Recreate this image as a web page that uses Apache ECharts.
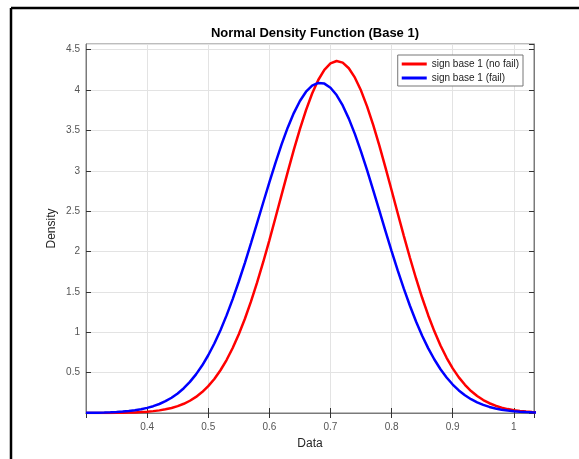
<!DOCTYPE html>
<html>
<head>
<meta charset="utf-8">
<script src="https://cdn.jsdelivr.net/npm/echarts@6/dist/echarts.min.js"></script>
<style>
html,body{margin:0;padding:0;background:#fff;}
#chart{width:579px;height:459px;}
</style>
</head>
<body>
<div id="chart"></div>
<script>
var xValues = [0.30,0.31,0.32,0.33,0.34,0.35,0.36,0.37,0.38,0.39,0.40,0.41,0.42,0.43,0.44,0.45,0.46,0.47,0.48,0.49,0.50,0.51,0.52,0.53,0.54,0.55,0.56,0.57,0.58,0.59,0.60,0.61,0.62,0.63,0.64,0.65,0.66,0.67,0.68,0.69,0.70,0.71,0.72,0.73,0.74,0.75,0.76,0.77,0.78,0.79,0.80,0.81,0.82,0.83,0.84,0.85,0.86,0.87,0.88,0.89,0.90,0.91,0.92,0.93,0.94,0.95,0.96,0.97,0.98,0.99,1.00,1.01,1.02,1.03,1.04];
var noFail = [0.0003,0.0004,0.0006,0.0010,0.0015,0.0023,0.0035,0.0052,0.0077,0.0113,0.0163,0.0232,0.0326,0.0454,0.0624,0.0849,0.1142,0.1517,0.1994,0.2589,0.3324,0.4218,0.5293,0.6562,0.8044,0.9745,1.1668,1.3817,1.6167,1.8704,2.1386,2.4176,2.7015,2.9835,3.2578,3.5159,3.7513,3.9563,4.1241,4.2501,4.3295,4.3597,4.3396,4.2700,4.1531,3.9930,3.7949,3.5652,3.3110,3.0394,2.7581,2.4739,2.1940,1.9228,1.6660,1.4270,1.2082,1.0111,0.8362,0.6841,0.5528,0.4417,0.3490,0.2724,0.2104,0.1604,0.1210,0.0902,0.0665,0.0484,0.0349,0.0248,0.0175,0.0122,0.0084];
var fail = [0.0020,0.0029,0.0043,0.0062,0.0089,0.0127,0.0179,0.0249,0.0343,0.0469,0.0632,0.0845,0.1116,0.1461,0.1891,0.2423,0.3072,0.3854,0.4786,0.5880,0.7153,0.8610,1.0257,1.2090,1.4106,1.6286,1.8605,2.1039,2.3542,2.6070,2.8573,3.0990,3.3264,3.5338,3.7145,3.8646,3.9788,4.0542,4.0881,4.0796,4.0289,3.9377,3.8086,3.6458,3.4536,3.2376,3.0037,2.7579,2.5059,2.2536,2.0053,1.7661,1.5395,1.3280,1.1333,0.9575,0.8004,0.6626,0.5423,0.4397,0.3524,0.2796,0.2196,0.1707,0.1313,0.1000,0.0753,0.0562,0.0414,0.0303,0.0219,0.0156,0.0111,0.0078,0.0054];
var seriesNames = ['sign base 1 (no fail)', 'sign base 1 (fail)'];
var titleText = 'Normal Density Function (Base 1)';
var xName = 'Data';
var yName = 'Density';

function pairs(ys){ return xValues.map(function(x,i){ return [x, ys[i]]; }); }

var axisGray = '#7a7a7a';
var tickDark = '#333';
var labelGray = '#555';
var fontFam = 'Liberation Sans, Arial, sans-serif';

var chart = echarts.init(document.getElementById('chart'), null, {renderer:'canvas'});
chart.setOption({
  animation: false,
  backgroundColor: '#fff',
  title: {
    text: titleText, left: 310, top: 22, textAlign: 'center',
    textStyle: {fontSize: 13, fontWeight: 'bold', color: '#000', fontFamily: fontFam}
  },
  legend: {
    orient: 'vertical', right: 56, top: 55,
    backgroundColor: '#fff', borderColor: '#777', borderWidth: 1,
    padding: [3, 4, 2, 4], itemGap: 2, itemWidth: 25, itemHeight: 3,
    icon: 'rect',
    textStyle: {fontSize: 10, color: '#222', fontFamily: fontFam, lineHeight: 12},
    data: seriesNames
  },
  grid: {left: 86, right: 45, top: 44, bottom: 46, show: true, borderColor: axisGray, borderWidth: 1, backgroundColor: '#fff'},
  xAxis: [{
    type: 'value', position: 'bottom', min: 0.3, max: 1.033, interval: 0.1,
    name: xName, nameLocation: 'middle', nameGap: 25,
    nameTextStyle: {fontSize: 12, color: '#262626', fontFamily: fontFam},
    axisLine: {show: true, lineStyle: {color: axisGray}},
    axisTick: {show: true, inside: true, length: 5, lineStyle: {color: tickDark}},
    axisLabel: {showMinLabel: false, showMaxLabel: false, fontSize: 10, color: labelGray, margin: 9, fontFamily: fontFam,
      formatter: function(v){ return (Math.round(v*10)/10).toString(); }},
    splitLine: {show: true, lineStyle: {color: '#e3e3e3'}}
  },{
    type: 'value', position: 'top', min: 0.3, max: 1.033, interval: 0.1,
    axisLine: {show: true, lineStyle: {color: axisGray}},
    axisTick: {show: true, inside: true, length: 5, lineStyle: {color: tickDark}},
    axisLabel: {show: false}, splitLine: {show: false}
  }],
  yAxis: [{
    type: 'value', position: 'left', min: 0, max: 4.57, interval: 0.5,
    name: yName, nameLocation: 'middle', nameGap: 28, nameMoveOverlap: false,
    nameTextStyle: {fontSize: 12, color: '#262626', fontFamily: fontFam},
    axisLine: {show: true, lineStyle: {color: axisGray}},
    axisTick: {show: true, inside: true, length: 5, lineStyle: {color: tickDark}},
    axisLabel: {showMinLabel: false, showMaxLabel: false, fontSize: 10, color: labelGray, margin: 6, fontFamily: fontFam},
    splitLine: {show: true, lineStyle: {color: '#e3e3e3'}}
  },{
    type: 'value', position: 'right', min: 0, max: 4.57, interval: 0.5,
    axisLine: {show: true, lineStyle: {color: axisGray}},
    axisTick: {show: true, inside: true, length: 5, lineStyle: {color: tickDark}},
    axisLabel: {show: false}, splitLine: {show: false}
  }],
  graphic: [
    {type: 'line', shape: {x1: 11, y1: 8, x2: 11, y2: 459}, style: {stroke: '#000', lineWidth: 2.5}},
    {type: 'line', shape: {x1: 11, y1: 8, x2: 579, y2: 8}, style: {stroke: '#000', lineWidth: 2.5}}
  ],
  series: [
    {name: seriesNames[0], type: 'line', data: pairs(noFail), showSymbol: false, symbol: 'none',
      lineStyle: {color: '#ff0000', width: 2.5}, itemStyle: {color: '#ff0000'}, z: 3},
    {name: seriesNames[1], type: 'line', data: pairs(fail), showSymbol: false, symbol: 'none',
      lineStyle: {color: '#0000ff', width: 2.5}, itemStyle: {color: '#0000ff'}, z: 4}
  ]
});
</script>
</body>
</html>
